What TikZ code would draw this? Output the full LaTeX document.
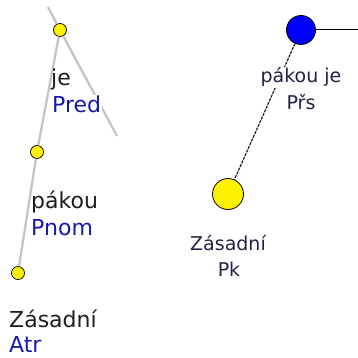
\documentclass[tikz,border=0pt]{standalone}
\usepackage{fontspec}
\setmainfont{DejaVu Sans}
\definecolor{edgegray}{RGB}{196,196,196}
\definecolor{funcblue}{RGB}{24,24,172}
\definecolor{wordblack}{RGB}{30,30,30}
\definecolor{navytext}{RGB}{34,34,70}
\definecolor{linkgray}{RGB}{30,30,30}
\begin{document}
\begin{tikzpicture}[x=1pt,y=-1pt,
  smalldot/.style={circle,draw=black,line width=0.7pt,fill=yellow,inner sep=0pt,minimum size=13pt},
  bigdot/.style={circle,draw=black,line width=0.8pt,inner sep=0pt,minimum size=#1},
  treeedge/.style={draw=edgegray,line width=2.3pt},
  linkedge/.style={draw=linkgray,line width=1.2pt,dash pattern=on 3pt off 1pt},
  masked/.style={fill=white},
  lword/.style={anchor=base west,inner sep=1pt,text=wordblack,font=\fontsize{22}{26}\selectfont},
  lfunc/.style={lword,text=funcblue},
  rword/.style={anchor=base,inner sep=1pt,text=navytext,font=\fontsize{19}{24}\selectfont}
]
\useasboundingbox (0,0) rectangle (358,358);

% dependency tree on the left
\coordinate (top) at (48,7);
\coordinate (side) at (117,136);
\node[smalldot] (n1) at (60,30) {};
\node[smalldot] (n2) at (37,152) {};
\node[smalldot] (n3) at (18,273) {};
\draw[treeedge] (top) -- (n1);
\draw[treeedge] (n1) -- (side);
\draw[treeedge] (n1) -- (n2);
\draw[treeedge] (n2) -- (n3);

\node[lword] (w1) at (50,86) {je};
\node[lfunc,masked] (f1) at (51,113) {Pred};
\node[lword] (w2) at (30,208) {pákou};
\node[lfunc] (f2) at (30,235) {Pnom};
\node[lword] (w3) at (8,327) {Zásadní};
\node[lfunc] (f3) at (8,352) {Atr};

% graph on the right
\node[bigdot=29pt,fill=blue] (b) at (301,30) {};
\node[bigdot=31pt,fill=yellow] (y) at (228,194) {};
\coordinate (out) at (358,30);
\draw[black,line width=1pt] (b) -- (out);
\draw[linkedge] (b) -- (y);

\node[rword,masked] (r1) at (301,83) {pákou je};
\node[rword] (r2) at (301,110) {Přs};
\node[rword] (r3) at (228,250) {Zásadní};
\node[rword] (r4) at (229,276) {Pk};
\end{tikzpicture}
\end{document}
